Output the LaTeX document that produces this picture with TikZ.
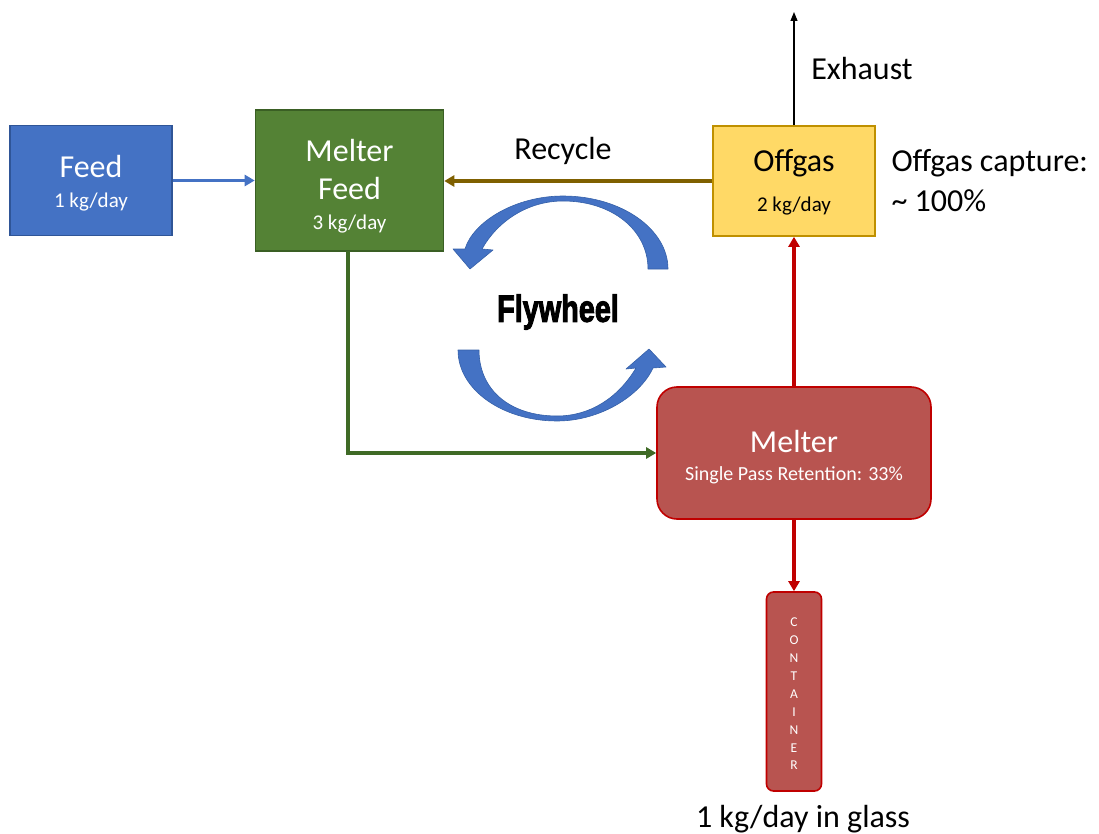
\documentclass[tikz,border=0pt]{standalone}
\usepackage{fontspec}
\setmainfont{Carlito}
\newfontfamily\heavyfont{Liberation Sans}[BoldFeatures={FakeBold=3}]
\usetikzlibrary{arrows.meta}

\definecolor{feedfill}{HTML}{4472C4}
\definecolor{feedline}{HTML}{2F5597}
\definecolor{mffill}{HTML}{548235}
\definecolor{mfline}{HTML}{3A5F24}
\definecolor{offfill}{HTML}{FFD966}
\definecolor{offline}{HTML}{BF9000}
\definecolor{meltfill}{HTML}{B85450}
\definecolor{meltline}{HTML}{C00000}
\definecolor{recyc}{HTML}{7F6000}
\definecolor{greenline}{HTML}{3F6A26}
\definecolor{wheelfill}{HTML}{4472C4}
\definecolor{wheelline}{HTML}{3560A8}

\tikzset{
  box/.style={draw, line width=1.6pt, inner sep=0pt},
  conn/.style={line width=3.4pt, -{Triangle[length=10pt,width=11pt]}},
  big/.style={font=\fontsize{32}{36}\selectfont},
  small/.style={font=\fontsize{21}{24}\selectfont},
}

\begin{document}
\begin{tikzpicture}[x=1pt,y=-1pt]
\useasboundingbox (0,0) rectangle (1099,834);

% process boxes
\node[box, fill=feedfill, draw=feedline, minimum width=162pt, minimum height=110pt] (feed) at (91,180.5) {};
\node[box, fill=mffill, draw=mfline, minimum width=188pt, minimum height=141pt] (mfeed) at (349.5,180.5) {};
\node[box, fill=offfill, draw=offline, minimum width=162pt, minimum height=110pt] (offgas) at (794,181) {};
\node[box, fill=meltfill, draw=meltline, rounded corners=20pt, minimum width=274pt, minimum height=132pt] (melter) at (794,453) {};
\node[box, fill=meltfill, draw=meltline, rounded corners=7pt, minimum width=55pt, minimum height=199pt] (container) at (794,691.5) {};

% box texts
\node[big, text=white] (feedT) at (91,167) {Feed};
\node[small, text=white] (feedR) at (91,202) {1 kg/day};
\node[big, text=white] (mfT1) at (349.5,151) {Melter};
\node[big, text=white] (mfT2) at (349.5,189) {Feed};
\node[small, text=white] (mfR) at (349.5,224) {3 kg/day};
\node[big, text=black] (offT) at (794,163) {Offgas};
\node[small, text=black] (offR) at (794,206) {2 kg/day};
\node[big, text=white] (meltT) at (794,442) {Melter};
\node[font=\fontsize{20}{22}\selectfont, text=white] (meltR) at (794,475) {Single Pass Retention: 33\%};
\node[font=\fontsize{13.5}{17.9}\selectfont, text=white, align=center] (contT) at (794,694)
  {C\\O\\N\\T\\A\\I\\N\\E\\R};

% free labels
\node[big] (recycleL) at (563,151) {Recycle};
\node[big] (exhaustL) at (862,69) {Exhaust};
\node[big, anchor=west] (captureL1) at (888,163) {Offgas capture:};
\node[big, anchor=west] (captureL2) at (888,201) {\textasciitilde{} 100\%};
\node[big] (glassL) at (803,819) {1 kg/day in glass};

% connectors
\coordinate (exhaustEnd) at (794,12);
\draw[conn, feedfill] (feed.east) -- (feed.east -| mfeed.west);
\draw[conn, recyc] (offgas.west) -- (offgas.west -| mfeed.east);
\draw[conn, meltline] (melter.north) -- (offgas.south);
\draw[line width=1.2pt, -{Triangle[length=9pt,width=7pt]}] (offgas.north) -- (exhaustEnd);
\draw[conn, greenline] (348,251) |- (melter.west);
\draw[conn, meltline] (melter.south) -- (container.north);

% flywheel arrows
\fill[wheelfill, draw=wheelline, line width=0.6pt, line join=round]
  (668,269) .. controls (668,229) and (621,196) .. (563,196)
  .. controls (515,196) and (473,222) .. (465,249)
  -- (453,249) -- (470,269) -- (493,250) -- (482,249)
  .. controls (497,222) and (527,201) .. (563,201)
  .. controls (612,201) and (648,230) .. (648,269) -- cycle;
\fill[wheelfill, draw=wheelline, line width=0.6pt, line join=round]
  (458,350) .. controls (458,390) and (503,421) .. (557,421)
  .. controls (600,421) and (640,396) .. (653,368)
  -- (666,367) -- (649,349) -- (626,369) -- (636,368)
  .. controls (618,398) and (590,416) .. (557,416)
  .. controls (510,416) and (479,390) .. (479,350) -- cycle;

\node[font=\heavyfont\bfseries\fontsize{36}{40}\selectfont] (flyL) at (558,312)
  {\scalebox{0.8}[1.05]{Flywheel}};
\end{tikzpicture}
\end{document}
